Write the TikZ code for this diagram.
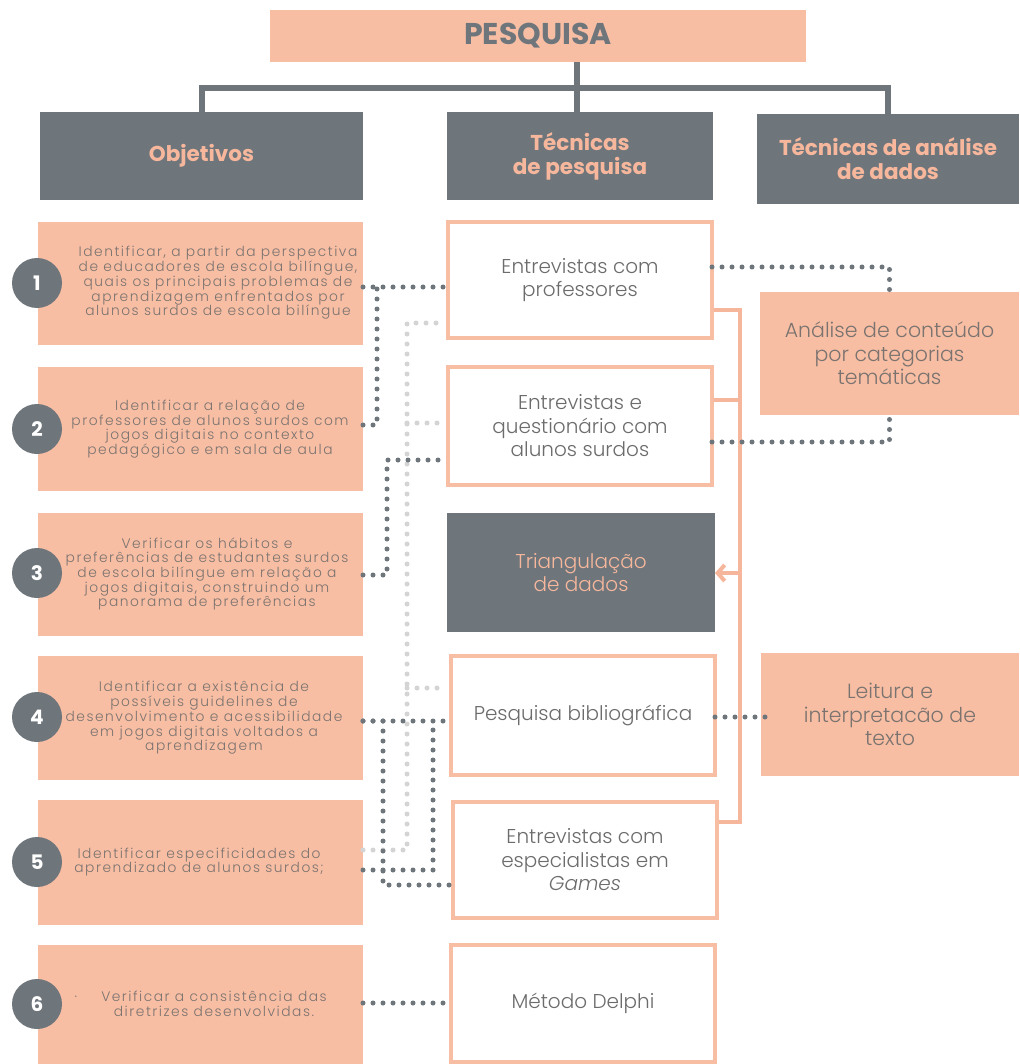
\documentclass[tikz,border=0pt]{standalone}
\usepackage{fontspec}
\setmainfont{Poppins}[UprightFont=* Light, BoldFont=* Bold, ItalicFont=* Light Italic]
\newfontfamily\widefont{Poppins}[UprightFont=* Light, LetterSpace=11]
\usetikzlibrary{arrows.meta,calc}
\definecolor{salmon}{HTML}{F8BEA4}
\definecolor{slate}{HTML}{6E767C}
\definecolor{ink}{HTML}{7A736F}
\definecolor{midink}{HTML}{6C6C6C}
\definecolor{hdr}{HTML}{F7B79C}
\definecolor{pale}{HTML}{D4D4D4}
\definecolor{rule}{HTML}{F6B69B}

\begin{document}
\begin{tikzpicture}[x=1pt,y=-1pt,
  pbox/.style={fill=salmon, inner sep=0pt, outer sep=0pt},
  gbox/.style={fill=slate, inner sep=0pt, outer sep=0pt, align=center, text=hdr},
  wbox/.style={draw=salmon, line width=3.5pt, fill=white, inner sep=0pt, outer sep=0pt,
    text=midink, align=center, font=\fontsize{20}{23.5}\selectfont},
  rtext/.style={text=ink, align=center, font=\fontsize{20.5}{23.5}\selectfont},
  ltext/.style={text=ink, align=center, inner sep=0pt, font=\widefont\fontsize{13.8}{14.7}\selectfont},
  hfont/.style={font=\bfseries\fontsize{21.5}{24}\selectfont},
  num/.style={circle, fill=slate, minimum size=50pt, inner sep=0pt, text=white,
    font=\bfseries\fontsize{20}{20}\selectfont},
  dots/.style={draw=slate, line width=5pt, line cap=round, dash pattern=on 0pt off 10pt},
  pdots/.style={dots, draw=pale},
  link/.style={draw=rule, line width=4pt},
  bar/.style={draw=slate, line width=6pt}]

\useasboundingbox[fill=white] (0,0) rectangle (1019,1064);

% title and column headers
\node[pbox, minimum width=536pt, minimum height=52pt, text=slate,
  font=\bfseries\fontsize{30}{30}\selectfont] (top) at (538,36) {PESQUISA};
\coordinate (jn) at (577,88);
\node[gbox, hfont, minimum width=323pt, minimum height=88pt] (obj) at (201.5,156) {Objetivos};
\node[gbox, hfont, minimum width=266pt, minimum height=88pt] (tec) at (580,156) {Técnicas\\de pesquisa};
\node[gbox, hfont, minimum width=262pt, minimum height=90pt] (tad) at (888,159) {Técnicas de análise\\de dados};
\draw[bar] (jn) -- (jn |- top.south);
\draw[bar] (obj.north) |- (jn) -| (tad.north);
\draw[bar] (jn) -- (jn |- tec.north);

% objectives
\node[pbox, minimum width=325pt, minimum height=123pt] (b1) at (200.5,283.5) {};
\node[pbox, minimum width=325pt, minimum height=124pt] (b2) at (200.5,429) {};
\node[pbox, minimum width=325pt, minimum height=123pt] (b3) at (200.5,574.5) {};
\node[pbox, minimum width=325pt, minimum height=124pt] (b4) at (200.5,718) {};
\node[pbox, minimum width=325pt, minimum height=125pt] (b5) at (200.5,862.5) {};
\node[pbox, minimum width=325pt, minimum height=119pt] (b6) at (200.5,1004.5) {};

\node[ltext] (t1) at (218,283) {Identificar, a partir da perspectiva\\de educadores de escola bilíngue,\\quais os principais problemas de\\aprendizagem enfrentados por\\alunos surdos de escola bilíngue};
\node[ltext] (t2) at (210,429) {Identificar a relação de\\professores de alunos surdos com\\jogos digitais no contexto\\pedagógico e em sala de aula};
\node[ltext] (t3) at (207,574) {Verificar os hábitos e\\preferências de estudantes surdos\\de escola bilíngue em relação a\\jogos digitais, construindo um\\panorama de preferências};
\node[ltext] (t4) at (204,718) {Identificar a existência de\\possíveis guidelines de\\desenvolvimento e acessibilidade\\em jogos digitais voltados a\\aprendizagem};
\node[ltext] (t5) at (199,862) {Identificar especificidades do\\aprendizado de alunos surdos;};
\node[ltext] (t6) at (214,1004) {\llap{·\hspace{24pt}}Verificar a consistência das\\diretrizes desenvolvidas.};

\node[num] (n1) at (37,283) {1};
\node[num] (n2) at (37,429) {2};
\node[num] (n3) at (37,573) {3};
\node[num] (n4) at (37,717) {4};
\node[num] (n5) at (37,862) {5};
\node[num] (n6) at (37,1004) {6};

% solid links gathering towards the triangulation
\draw[link] (712,310) -- (740,310) -- (740,822) -- (717,822);
\draw[link] (712,400) -- (740,400);

% research techniques
\node[wbox, minimum width=264pt, minimum height=116pt] (prof) at (580,280) {Entrevistas com\\professores};
\node[wbox, minimum width=264pt, minimum height=118pt] (qa) at (580,426) {Entrevistas e\\questionário com\\alunos surdos};
\node[gbox, minimum width=268pt, minimum height=119pt, font=\fontsize{20}{23.5}\selectfont] (tri) at (581,572.5) {Triangulação\\de dados};
\node[wbox, minimum width=264pt, minimum height=119pt] (bib) at (583,715.5) {Pesquisa bibliográfica};
\node[wbox, minimum width=264pt, minimum height=116pt] (esp) at (585,860) {Entrevistas com\\especialistas em\\\textit{Games}};
\node[wbox, minimum width=264pt, minimum height=117pt] (del) at (583,1003.5) {Método Delphi};

\coordinate (tj) at (740,573);
\draw[link, -{Straight Barb[length=7pt,width=16pt]}] (tj) -- (tri.east |- tj);

% analysis techniques
\node[pbox, rtext, minimum width=259pt, minimum height=123pt] (ana) at (889.5,353.5) {Análise de conteúdo\\por categorias\\temáticas};
\node[pbox, rtext, minimum width=258pt, minimum height=123pt] (lei) at (890,714.5) {Leitura e\\interpretacão de\\texto};

% dotted links: objectives to techniques
\draw[pdots, shorten >=8pt] (b5.east |- 0,850) -| (407,323) -- (prof.west |- 0,323);
\draw[pdots, shorten >=8pt] (407,423) -- (qa.west |- 0,423);
\draw[pdots, shorten >=8pt] (407,688) -- (bib.west |- 0,688);

\draw[dots] (b1.east |- 0,287) -- (prof.west |- 0,287);
\draw[dots] (b2.east |- 0,425) -| (377,287);
\draw[dots] (b3.east |- 0,575) -| (387,460) -- (qa.west |- 0,460);
\draw[dots] (b4.east |- 0,721) -- (bib.west |- 0,721);
\draw[dots] (b4.east |- 0,721) -| (383,885) -- (esp.west |- 0,885);
\draw[dots] (b5.east |- 0,870) -| (433,721);
\draw[dots] (b6.east |- 0,1003) -- (del.west |- 0,1003);

% dotted links: techniques to analysis
\draw[dots] (prof.east |- 0,267) -| (ana.north);
\draw[dots] (qa.east |- 0,442) -| (ana.south);
\draw[dots, shorten >=-6pt] (bib.east |- 0,717) -- (lei.west |- 0,717);
\end{tikzpicture}
\end{document}
